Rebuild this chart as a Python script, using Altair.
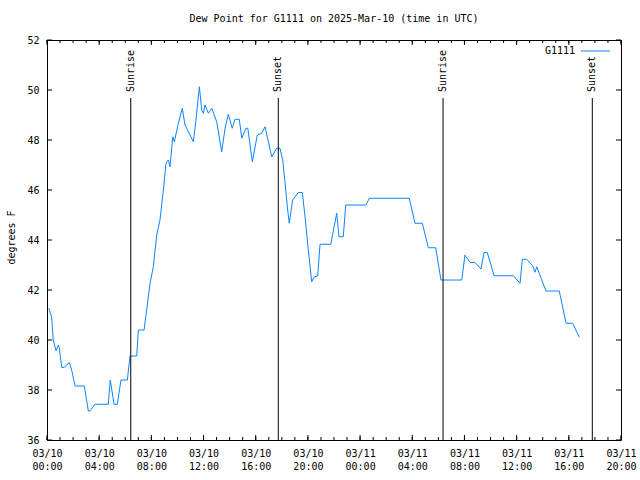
import altair as alt
import pandas as pd

# ---- data (hours since 2025-03-10 00:00 UTC, dew point in degrees F) ----
hours = [0.15, 0.36, 0.48, 0.69, 0.87, 0.94, 1.13, 1.30, 1.71, 1.89, 2.15, 2.86,
         3.17, 3.30, 3.68, 4.70, 4.85, 5.14, 5.39, 5.67, 6.16, 6.36, 6.88, 7.00,
         7.44, 7.64, 7.90, 8.15, 8.41, 8.66, 8.92, 9.12, 9.30, 9.43, 9.64, 9.76,
         10.07, 10.37, 10.58, 11.22, 11.42, 11.68, 11.86, 11.98, 12.11, 12.37,
         12.63, 13.01, 13.39, 13.65, 13.90, 14.20, 14.41, 14.74, 14.93, 15.25,
         15.39, 15.74, 16.12, 16.46, 16.71, 17.23, 17.61, 17.86, 18.07, 18.24,
         18.42, 18.57, 18.83, 19.26, 19.57, 19.78, 20.03, 20.29, 20.49, 20.75,
         20.93, 21.75, 22.21, 22.38, 22.71, 22.90, 24.45, 24.71, 27.77, 28.21,
         28.77, 29.23, 29.80, 30.20, 31.79, 32.04, 32.43, 32.81, 33.27, 33.50,
         33.75, 34.27, 35.75, 36.26, 36.44, 36.77, 37.23, 37.41, 37.54, 38.25,
         39.27, 39.79, 40.30, 40.80]
dewpoint = [41.27, 40.90, 40.00, 39.57, 39.80, 39.70, 38.90, 38.90, 39.10, 38.80, 38.16, 38.16,
            37.16, 37.16, 37.43, 37.43, 38.40, 37.43, 37.43, 38.40, 38.40, 39.36, 39.36, 40.40,
            40.40, 41.20, 42.27, 42.93, 44.20, 44.80, 46.00, 47.07, 47.20, 46.93, 48.13, 47.93,
            48.67, 49.27, 48.60, 47.93, 48.80, 50.13, 49.20, 49.07, 49.40, 49.07,
            49.27, 48.73, 47.53, 48.47, 49.03, 48.47, 48.83, 48.83, 48.07, 48.47,
            48.47, 47.13, 48.20, 48.27, 48.53, 47.33, 47.67, 47.67, 47.20, 46.33,
            45.33, 44.67, 45.60, 45.90, 45.90, 44.93, 43.60, 42.33, 42.53, 42.56,
            43.83, 43.83, 45.07, 44.13, 44.13, 45.40, 45.40, 45.67, 45.67, 44.67,
            44.67, 43.69, 43.69, 42.40, 42.40, 43.40, 43.10, 43.10, 42.84, 43.50,
            43.50, 42.57, 42.57, 42.27, 43.23, 43.23, 42.97, 42.71, 42.93, 41.96,
            41.96, 40.67, 40.67, 40.11]
series_name = "G1111"

sun_hours = [6.42, 17.73, 30.36, 41.80]
sun_labels = ["Sunrise", "Sunset", "Sunrise", "Sunset"]

x_domain_hours = [0, 44]
x_major_hours = list(range(0, 45, 4))
x_minor_hours = list(range(0, 45, 1))
y_ticks = [36, 38, 40, 42, 44, 46, 48, 50, 52]

title_text = "Dew Point for G1111 on 2025-Mar-10 (time in UTC)"
y_title = "degrees F"

# ---- helpers ----
base = pd.Timestamp("2025-03-10T00:00:00Z")


def iso(h):
    return (base + pd.Timedelta(hours=h)).strftime("%Y-%m-%dT%H:%M:%SZ")


def ms(h):
    return int((base + pd.Timedelta(hours=h)).timestamp() * 1000)


W, H = 574, 400
FONT = "DejaVu Sans Mono"
BLUE = "#0a84ff"

line_df = pd.DataFrame({"t": [iso(h) for h in hours], "v": dewpoint})
sun_df = pd.DataFrame({"t": [iso(h) for h in sun_hours], "label": sun_labels})
major_df = pd.DataFrame({"t": [iso(h) for h in x_major_hours]})
minor_df = pd.DataFrame({"t": [iso(h) for h in x_minor_hours]})
ytick_df = pd.DataFrame({"v": y_ticks})
legend_df = pd.DataFrame({"name": [series_name]})

X = alt.X(
    "t:T",
    scale=alt.Scale(type="utc", domain=[ms(x_domain_hours[0]), ms(x_domain_hours[1])]),
    axis=alt.Axis(
        values=[ms(h) for h in x_major_hours],
        labelExpr="[utcFormat(datum.value, '%m/%d'), utcFormat(datum.value, '%H:%M')]",
        ticks=False, domain=False, grid=False, title=None,
        labelPadding=8, labelLineHeight=13, labelFlush=False, labelOverlap=False,
    ),
)
Y = alt.Y(
    "v:Q",
    scale=alt.Scale(domain=[36, 52], nice=False, zero=False),
    axis=alt.Axis(
        values=y_ticks, ticks=False, domain=False, grid=False, title=y_title,
        labelPadding=8, titleAngle=270, titleX=-36, titleY=197,
        titleAlign="center", titleBaseline="middle",
    ),
)

line = alt.Chart(line_df).mark_line(color=BLUE, strokeWidth=1).encode(x=X, y=Y)

sun_rules = alt.Chart(sun_df).mark_rule(color="black", strokeWidth=1).encode(
    x=X, y=alt.value(58), y2=alt.value(H)
)
sun_text = alt.Chart(sun_df).mark_text(
    angle=270, align="left", baseline="middle", font=FONT, fontSize=10, color="black"
).encode(x=X, y=alt.value(52), text="label:N")

bottom_major = alt.Chart(major_df).mark_rule(color="black").encode(
    x=X, y=alt.value(H), y2=alt.value(H - 5)
)
bottom_minor = alt.Chart(minor_df).mark_rule(color="black").encode(
    x=X, y=alt.value(H), y2=alt.value(H - 3)
)
top_major = alt.Chart(major_df).mark_rule(color="black").encode(
    x=X, y=alt.value(0), y2=alt.value(5)
)
top_minor = alt.Chart(minor_df).mark_rule(color="black").encode(
    x=X, y=alt.value(0), y2=alt.value(3)
)
left_ticks = alt.Chart(ytick_df).mark_rule(color="black").encode(
    y=Y, x=alt.value(0), x2=alt.value(5)
)
right_ticks = alt.Chart(ytick_df).mark_rule(color="black").encode(
    y=Y, x=alt.value(W), x2=alt.value(W - 5)
)

legend_text = alt.Chart(legend_df).mark_text(
    align="right", baseline="middle", font=FONT, fontSize=10, color="black"
).encode(x=alt.value(528), y=alt.value(11), text="name:N")
legend_line = alt.Chart(legend_df).mark_rule(color=BLUE, strokeWidth=1).encode(
    x=alt.value(534), x2=alt.value(563), y=alt.value(11)
)

chart = alt.layer(
    line, sun_rules, sun_text, bottom_major, bottom_minor, top_major, top_minor,
    left_ticks, right_ticks, legend_text, legend_line,
).properties(
    width=W, height=H,
    padding={"left": 47, "top": 40, "right": 19, "bottom": 40},
    autosize=alt.AutoSizeParams(type="none"),
    title=alt.TitleParams(title_text, font=FONT, fontSize=10, fontWeight="normal",
                          anchor="middle", offset=11, color="black"),
    background="white",
).configure_view(
    stroke="black", strokeWidth=1
).configure_axis(
    labelFont=FONT, labelFontSize=10, labelColor="black",
    titleFont=FONT, titleFontSize=10, titleFontWeight="normal", titleColor="black",
)

chart.save("out.html", embed_options={"renderer": "svg", "actions": False})
